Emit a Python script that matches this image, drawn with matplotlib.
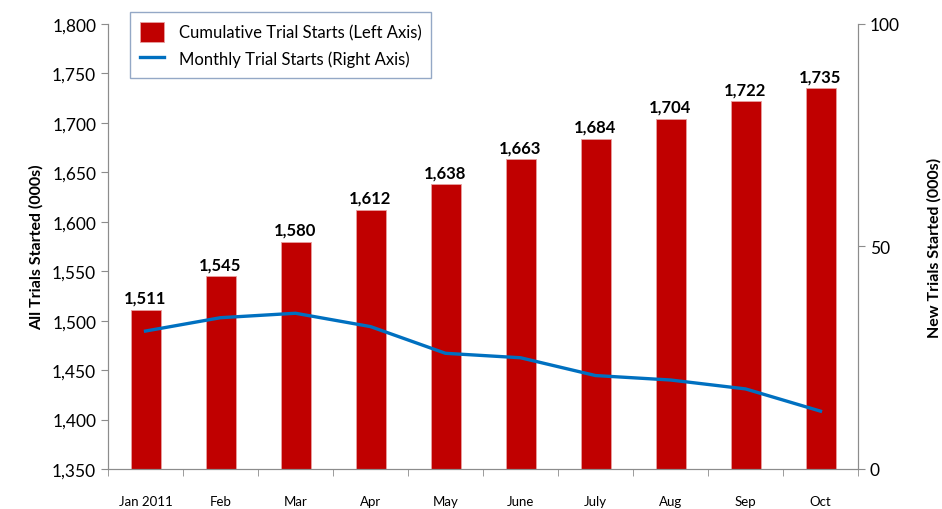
import numpy as np
import matplotlib.pyplot as plt

months = ['Jan 2011', 'Feb', 'Mar', 'Apr', 'May', 'June', 'July', 'Aug', 'Sep', 'Oct']
cumulative = [1511, 1545, 1580, 1612, 1638, 1663, 1684, 1704, 1722, 1735]
monthly = [31, 34, 35, 32, 26, 25, 21, 20, 18, 13]

plt.rcParams['font.family'] = ['Lato', 'DejaVu Sans']
grey = '#8c8c8c'

fig = plt.figure(figsize=(9.42, 5.10), dpi=100)
ax = fig.add_axes([108/942, 40/510, 750/942, 445/510])
x = np.arange(len(months))

bars = ax.bar(x, cumulative, width=0.4, color='#C00000', edgecolor='#e8a0a0',
              linewidth=0.6, label='Cumulative Trial Starts (Left Axis)', zorder=2)
for xi, v in zip(x, cumulative):
    ax.text(xi, v + 4, f'{v:,}', ha='center', va='bottom', fontsize=12,
            fontweight='bold', color='black')

ax.set_xlim(-0.5, len(months) - 0.5)
ax.set_ylim(1350, 1800)
ax.set_yticks(np.arange(1350, 1801, 50))
ax.set_yticklabels([f'{t:,}' for t in range(1350, 1801, 50)], fontsize=12.5)
ax.set_xticks(x)
ax.set_xticklabels(months, fontsize=9.5)
ax.set_xticks(np.arange(-0.5, len(months), 1), minor=True)
ax.tick_params(axis='x', which='major', length=0, pad=19)
ax.tick_params(axis='x', which='minor', length=5, color=grey, direction='out')
ax.tick_params(axis='y', length=5, color=grey, direction='out')
ax.set_ylabel('All Trials Started (000s)', fontsize=11.5, fontweight='bold', labelpad=6)
ax.spines['top'].set_visible(False)
for s in ['left', 'right', 'bottom']:
    ax.spines[s].set_color(grey)

ax2 = ax.twinx()
line, = ax2.plot(x, monthly, color='#0070C0', linewidth=2.4,
                 label='Monthly Trial Starts (Right Axis)', zorder=3)
ax2.set_ylim(0, 100)
ax2.set_yticks([0, 50, 100])
ax2.tick_params(axis='y', length=5, color=grey, direction='out', labelsize=12.5)
ax2.set_ylabel('New Trials Started (000s)', fontsize=11.5, fontweight='bold', labelpad=20)
ax2.spines['top'].set_visible(False)
for s in ['left', 'right', 'bottom']:
    ax2.spines[s].set_color(grey)

leg = fig.legend([bars, line], [bars.get_label(), line.get_label()],
                 loc='upper left', bbox_to_anchor=(122/942, 1 - 5/510),
                 fontsize=12, frameon=True, fancybox=False,
                 handlelength=1.4, handleheight=1.4, borderpad=0.6,
                 labelspacing=0.45, handletextpad=0.9)
leg.get_frame().set_edgecolor('#7a93b8')
leg.get_frame().set_linewidth(1.0)

fig.savefig('out.png', dpi=100)
